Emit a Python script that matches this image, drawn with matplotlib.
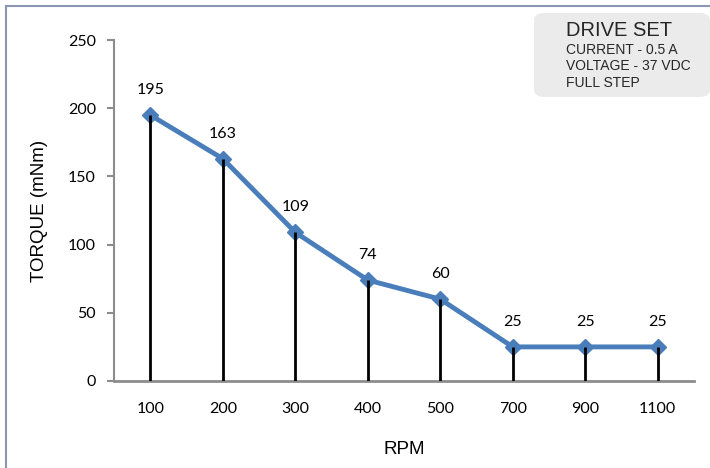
import matplotlib
matplotlib.use("Agg")
import matplotlib.pyplot as plt
from matplotlib.patches import FancyBboxPatch
from matplotlib.lines import Line2D

rpm = ["100", "200", "300", "400", "500", "700", "900", "1100"]
torque = [195, 163, 109, 74, 60, 25, 25, 25]
box_title = "DRIVE SET"
box_lines = ["CURRENT - 0.5 A", "VOLTAGE - 37 VDC", "FULL STEP"]

fig = plt.figure(figsize=(7.1, 4.68), dpi=100)
ax = fig.add_axes([0.1606, 0.1859, 0.8169, 0.7286])

x = list(range(len(rpm)))
ax.plot(x, torque, color="#4a7ebb", lw=3.5, marker="D", markersize=8.5,
        markeredgecolor="#4a7ebb", zorder=3)
ax.vlines(x, 0, torque, color="black", lw=2, zorder=4)
for xi, v in zip(x, torque):
    ax.annotate(str(v), (xi, v), xytext=(0, 13), textcoords="offset points",
                ha="center", va="bottom", fontsize=11.5, family="Lato")

ax.set_xlim(-0.5, len(rpm) - 0.5)
ax.set_ylim(0, 250)
ax.set_yticks(range(0, 251, 50))
ax.set_xticks(x)
ax.set_xticklabels(rpm)
for s in ["top", "right"]:
    ax.spines[s].set_visible(False)
ax.spines["left"].set_color("#8c8c8c")
ax.spines["left"].set_linewidth(1.5)
ax.spines["bottom"].set_color("#8c8c8c")
ax.spines["bottom"].set_linewidth(2)
ax.tick_params(axis="y", length=5, width=1.5, color="#8c8c8c", pad=8,
               labelsize=11.5)
ax.tick_params(axis="x", length=0, pad=15, labelsize=11.5)
for lab in ax.get_xticklabels() + ax.get_yticklabels():
    lab.set_family("Lato")

ax.set_xlabel("RPM", fontsize=13.5, family="Liberation Sans", labelpad=18)
ax.set_ylabel("TORQUE (mNm)", fontsize=13.5, family="Liberation Sans",
              labelpad=14)

# info box
box = FancyBboxPatch((534 / 710, 1 - 97 / 468), 176 / 710, 84 / 468,
                     boxstyle="round,pad=0,rounding_size=0.015",
                     transform=fig.transFigure, facecolor="#ebebeb",
                     edgecolor="none")
fig.patches.append(box)
fig.text(566 / 710, 1 - 30 / 468, box_title, fontsize=14.5,
         family="Liberation Sans", color="#262626", va="center")
for i, line in enumerate(box_lines):
    fig.text(566 / 710, 1 - (50 + i * 16.5) / 468, line, fontsize=10,
             family="Liberation Sans", color="#262626", va="center")

# outer frame (top and left)
fig.lines.append(Line2D([5.5 / 710, 1], [1 - 6 / 468, 1 - 6 / 468],
                        transform=fig.transFigure, color="#8a96b4", lw=1.5))
fig.lines.append(Line2D([5.5 / 710, 5.5 / 710], [0, 1 - 6 / 468],
                        transform=fig.transFigure, color="#8a96b4", lw=1.5))

fig.savefig("out.png", dpi=100)
